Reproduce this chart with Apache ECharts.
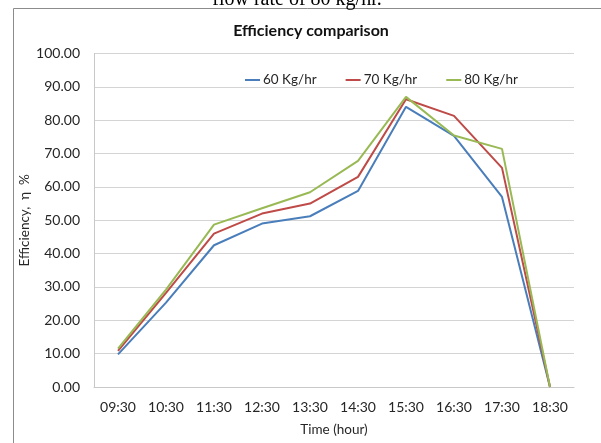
<!DOCTYPE html>
<html>
<head>
<meta charset="utf-8">
<script src="https://cdn.jsdelivr.net/npm/echarts@6/dist/echarts.min.js"></script>
<style>html,body{margin:0;padding:0;background:#fff;}#c{width:601px;height:443px;}</style>
</head>
<body>
<div id="c"></div>
<script>
var categories = ['09:30','10:30','11:30','12:30','13:30','14:30','15:30','16:30','17:30','18:30'];
var s60 = [9.8, 25.3, 42.5, 49.0, 51.2, 58.8, 84.0, 75.3, 57.0, 0];
var s70 = [10.8, 28.2, 46.0, 52.0, 55.0, 63.0, 86.3, 81.3, 65.7, 0];
var s80 = [11.5, 29.2, 48.7, 53.6, 58.4, 67.8, 87.0, 75.4, 71.4, 0];
var seriesNames = ['60 Kg/hr', '70 Kg/hr', '80 Kg/hr'];
var colors = ['#4a7ebb', '#be4b48', '#98b954'];

var font = 'Lato, "Open Sans", sans-serif';
var chart = echarts.init(document.getElementById('c'), null, {renderer: 'canvas'});
var data = [s60, s70, s80];
chart.setOption({
  animation: false,
  backgroundColor: '#fff',
  graphic: {elements: [
    {type: 'line', z: 100, shape: {x1: 13.5, y1: 8.5, x2: 13.5, y2: 443}, style: {stroke: '#8c8c8c', lineWidth: 1}},
    {type: 'line', z: 100, shape: {x1: 13.5, y1: 8.5, x2: 601, y2: 8.5}, style: {stroke: '#8c8c8c', lineWidth: 1}},
    {type: 'text', z: 100, x: 297, y: 10, style: {text: 'flow rate of 80 kg/hr.', font: '20px "Liberation Serif", serif', fill: '#000', align: 'center', verticalAlign: 'bottom'}}
  ]},
  title: {
    text: 'Efficiency comparison', left: 306, top: 18, textAlign: 'center',
    textStyle: {fontFamily: font, fontWeight: 'bold', fontSize: 16, color: '#111'}
  },
  legend: {
    left: 245, top: 73, padding: 0, itemWidth: 15, itemHeight: 2, itemGap: 29, icon: 'rect',
    textStyle: {fontFamily: font, fontSize: 13.5, color: '#262626', padding: [0, 0, 0, -2]},
    data: seriesNames
  },
  grid: {left: 94, right: 27, top: 53.5, bottom: 56, containLabel: false},
  xAxis: {
    type: 'category', data: categories, boundaryGap: true,
    name: 'Time (hour)', nameLocation: 'middle', nameGap: 36,
    nameTextStyle: {fontFamily: font, fontSize: 13.5, color: '#262626'},
    axisLine: {lineStyle: {color: '#c8c8c8'}},
    axisTick: {show: false},
    axisLabel: {fontFamily: font, fontSize: 14, color: '#262626', margin: 13}
  },
  yAxis: {
    type: 'value', min: 0, max: 100, interval: 10,
    name: 'Efficiency,  \u03b7  %', nameLocation: 'middle', nameGap: 62, nameRotate: 90,
    nameMoveOverlap: false,
    nameTextStyle: {fontFamily: font, fontSize: 13.5, color: '#262626'},
    axisLine: {show: true, lineStyle: {color: '#c8c8c8'}},
    axisTick: {show: false},
    splitLine: {lineStyle: {color: '#d4d4d4'}},
    axisLabel: {fontFamily: font, fontSize: 14, color: '#262626', margin: 14,
      formatter: function (v) { return v.toFixed(2); }}
  },
  series: data.map(function (d, i) {
    return {
      name: seriesNames[i], type: 'line', data: d, symbol: 'none',
      lineStyle: {color: colors[i], width: 2}, itemStyle: {color: colors[i]}
    };
  })
});
</script>
</body>
</html>
